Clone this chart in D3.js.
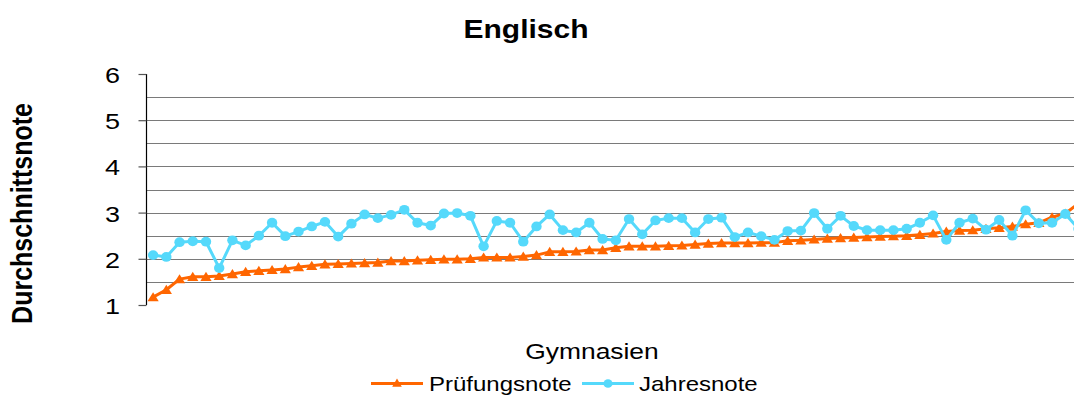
<!DOCTYPE html>
<html>
<head>
<meta charset="utf-8">
<script src="https://cdn.jsdelivr.net/npm/d3@7"></script>
<style>
  html, body { margin: 0; padding: 0; background: #fff; }
  svg { display: block; font-family: "Liberation Sans", Arial, sans-serif; }
</style>
</head>
<body>
<svg id="chart" width="1074" height="396"></svg>
<script>
// Average grades per Gymnasium, sorted by exam grade
const pruefungsnote = [
  1.17, 1.33, 1.56, 1.61, 1.61, 1.63, 1.67, 1.72, 1.74, 1.76,
  1.78, 1.82, 1.85, 1.88, 1.89, 1.90, 1.91, 1.92, 1.95, 1.95,
  1.97, 1.98, 1.99, 1.99, 2.00, 2.03, 2.03, 2.03, 2.05, 2.08,
  2.15, 2.15, 2.16, 2.19, 2.19, 2.24, 2.27, 2.27, 2.27, 2.28,
  2.29, 2.31, 2.33, 2.34, 2.34, 2.34, 2.35, 2.35, 2.39, 2.40,
  2.42, 2.44, 2.45, 2.46, 2.47, 2.48, 2.49, 2.50, 2.52, 2.55,
  2.59, 2.61, 2.62, 2.65, 2.67, 2.70, 2.75, 2.78, 2.90, 2.98,
  3.20
];
const jahresnote = [
  2.08, 2.04, 2.36, 2.38, 2.37, 1.80, 2.40, 2.29, 2.50, 2.78,
  2.49, 2.59, 2.70, 2.80, 2.48, 2.76, 2.96, 2.88, 2.95, 3.06,
  2.78, 2.72, 2.98, 2.99, 2.93, 2.27, 2.82, 2.78, 2.37, 2.70,
  2.96, 2.62, 2.57, 2.78, 2.43, 2.40, 2.86, 2.53, 2.83, 2.88,
  2.88, 2.57, 2.86, 2.89, 2.47, 2.57, 2.49, 2.41, 2.60, 2.61,
  2.99, 2.65, 2.93, 2.71, 2.62, 2.62, 2.62, 2.65, 2.78, 2.94,
  2.41, 2.78, 2.87, 2.63, 2.84, 2.50, 3.05, 2.77, 2.78, 2.97,
  2.65
];
const gymnasien = pruefungsnote.map((_, i) => i + 1);
const yTicks = [1, 2, 3, 4, 5, 6];
const yGrid = [1.5, 2, 2.5, 3, 3.5, 4, 4.5, 5, 5.5];

const titleText = "Englisch";
const yTitle = "Durchschnittsnote";
const xTitle = "Gymnasien";
const seriesNames = ["Prüfungsnote", "Jahresnote"];

const ORANGE = "#FF6600";
const CYAN = "#55D9FB";
const SX = 1.2; // text is set slightly wide

const svg = d3.select("#chart");

const x = d3.scaleBand().domain(gymnasien).range([146.5, 146.5 + 13.22 * gymnasien.length]).paddingInner(0);
const y = d3.scaleLinear().domain([1, 6]).range([305, 74]);
const cx = d => x(d) + x.bandwidth() / 2;

// gridlines
svg.append("g")
  .selectAll("line")
  .data(yGrid)
  .join("line")
  .attr("x1", 147).attr("x2", 1100)
  .attr("y1", d => Math.round(y(d)) + 0.5).attr("y2", d => Math.round(y(d)) + 0.5)
  .attr("stroke", "#7a7a7a").attr("stroke-width", 1.2);

// y axis
const yAxis = d3.axisLeft(y).tickValues(yTicks).tickSize(8).tickFormat("");
const gy = svg.append("g").attr("transform", "translate(146.5,0)").call(yAxis);
gy.select(".domain").attr("stroke", "#000").attr("stroke-width", 1.2).attr("d", `M0,${y(6)}V${y(1)}`);
gy.selectAll(".tick line").attr("stroke", "#555").attr("stroke-width", 1.2);

// tick labels
svg.append("g")
  .selectAll("text")
  .data(yTicks)
  .join("text")
  .attr("transform", d => `translate(120,${y(d) + 9}) scale(${SX},1)`)
  .attr("text-anchor", "end")
  .attr("font-size", 22.5)
  .attr("fill", "#000")
  .text(d => d);

// series
const line = d3.line().x((d, i) => cx(gymnasien[i])).y(d => y(d));
const tri = "M0,-5L5.6,4.2L-5.6,4.2Z";

svg.append("path").datum(pruefungsnote)
  .attr("d", line).attr("fill", "none")
  .attr("stroke", ORANGE).attr("stroke-width", 3).attr("stroke-linejoin", "round");
svg.append("g").selectAll("path")
  .data(pruefungsnote).join("path")
  .attr("d", tri)
  .attr("transform", (d, i) => `translate(${cx(gymnasien[i])},${y(d)})`)
  .attr("fill", ORANGE);

svg.append("path").datum(jahresnote)
  .attr("d", line).attr("fill", "none")
  .attr("stroke", CYAN).attr("stroke-width", 3).attr("stroke-linejoin", "round");
svg.append("g").selectAll("ellipse")
  .data(jahresnote).join("ellipse")
  .attr("cx", (d, i) => cx(gymnasien[i]))
  .attr("cy", d => y(d))
  .attr("rx", 5.2).attr("ry", 4.9)
  .attr("fill", CYAN);

// titles
svg.append("text")
  .attr("transform", `translate(526,38) scale(${SX},1)`)
  .attr("text-anchor", "middle")
  .attr("font-size", 25).attr("font-weight", "bold")
  .text(titleText);

svg.append("text")
  .attr("transform", `translate(31.5,213.5) scale(${SX},1) rotate(-90)`)
  .attr("text-anchor", "middle")
  .attr("font-size", 25).attr("font-weight", "bold")
  .text(yTitle);

svg.append("text")
  .attr("transform", `translate(592,359) scale(${SX},1)`)
  .attr("text-anchor", "middle")
  .attr("font-size", 22)
  .text(xTitle);

// legend
const legend = svg.append("g");
const items = [
  { name: seriesNames[0], color: ORANGE, x0: 371, x1: 423, tx: 429, marker: "tri" },
  { name: seriesNames[1], color: CYAN, x0: 582, x1: 634, tx: 639, marker: "circle" }
];
items.forEach(it => {
  legend.append("line")
    .attr("x1", it.x0).attr("x2", it.x1).attr("y1", 383.5).attr("y2", 383.5)
    .attr("stroke", it.color).attr("stroke-width", 2.8);
  const mx = (it.x0 + it.x1) / 2;
  if (it.marker === "tri") {
    legend.append("path").attr("d", "M0,-4.6L4.8,3.8L-4.8,3.8Z")
      .attr("transform", `translate(${mx},383)`).attr("fill", it.color);
  } else {
    legend.append("ellipse").attr("cx", mx).attr("cy", 383.5).attr("rx", 4.6).attr("ry", 4.3).attr("fill", it.color);
  }
  legend.append("text")
    .attr("transform", `translate(${it.tx},390.5) scale(${SX},1)`)
    .attr("font-size", 20)
    .text(it.name);
});
</script>
</body>
</html>
